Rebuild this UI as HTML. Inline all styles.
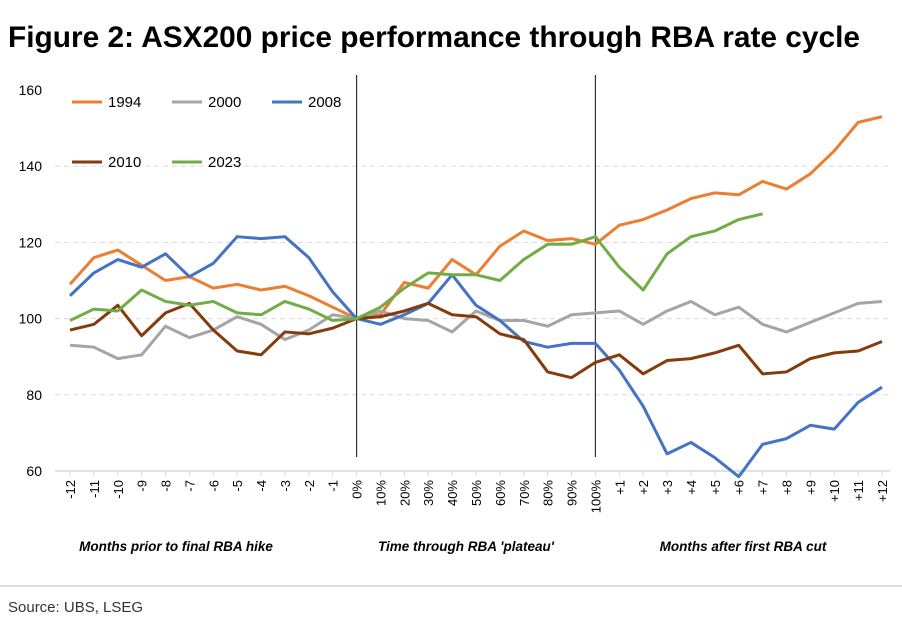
<!DOCTYPE html>
<html><head><meta charset="utf-8"><style>
body{margin:0;background:#fff;width:902px;height:620px;overflow:hidden;font-family:"Liberation Sans",sans-serif}
</style></head><body>
<svg width="902" height="620" id="svg">
<text x="8" y="47" font-size="30" font-weight="bold" fill="#000" textLength="852" lengthAdjust="spacingAndGlyphs">Figure 2: ASX200 price performance through RBA rate cycle</text>
<line x1="0" y1="586" x2="902" y2="586" stroke="#bbb" stroke-width="1"/>
<text x="8" y="612" font-size="15" fill="#333">Source: UBS, LSEG</text>
<g id="plot"></g>
</svg>
<script>
const categories=["-12","-11","-10","-9","-8","-7","-6","-5","-4","-3","-2","-1","0%","10%","20%","30%","40%","50%","60%","70%","80%","90%","100%","+1","+2","+3","+4","+5","+6","+7","+8","+9","+10","+11","+12"];
const s1994=[109,116,118,114,110,111,108,109,107.5,108.5,106,103,100,101,109.5,108,115.5,111.5,119,123,120.5,121,119.5,124.5,126,128.5,131.5,133,132.5,136,134,138,144,151.5,153];
const s2000=[93,92.5,89.5,90.5,98,95,97,100.5,98.5,94.5,97,101,100,102,100,99.5,96.5,102,99.5,99.5,98,101,101.5,102,98.5,102,104.5,101,103,98.5,96.5,99,101.5,104,104.5];
const s2008=[106,112,115.5,113.5,117,111,114.5,121.5,121,121.5,116,107,100,98.5,101,104,111.5,103.5,99.5,94,92.5,93.5,93.5,86.5,77,64.5,67.5,63.5,58.5,67,68.5,72,71,78,82];
const s2010=[97,98.5,103.5,95.5,101.5,104,97,91.5,90.5,96.5,96,97.5,100,100.5,102,104,101,100.5,96,94.5,86,84.5,88.5,90.5,85.5,89,89.5,91,93,85.5,86,89.5,91,91.5,94];
const s2023=[99.5,102.5,102,107.5,104.5,103.5,104.5,101.5,101,104.5,102.5,99.5,100,103,108,112,111.5,111.5,110,115.5,119.5,119.5,121.5,113.5,107.5,117,121.5,123,126,127.5];
const yTicks=[60,80,100,120,140,160];
const seriesNames=["1994","2000","2008","2010","2023"];
const sections=["Months prior to final RBA hike","Time through RBA 'plateau'","Months after first RBA cut"];

const NS="http://www.w3.org/2000/svg";
const g=document.getElementById('plot');
const x0=70,dx=(882-70)/34;
const xs=i=>x0+i*dx;
const ys=v=>471-(v-60)*381/100;
function mk(t,a){const e=document.createElementNS(NS,t);for(const k in a)e.setAttribute(k,a[k]);g.appendChild(e);return e;}
yTicks.forEach(v=>{
 if(v>60&&v<160){const l=mk('line',{x1:55,x2:890,y1:ys(v),y2:ys(v),stroke:'#d9d9d9','stroke-dasharray':'5,4'});
 
 }
 const t=mk('text',{x:42,y:ys(v)+5,'text-anchor':'end','font-size':'14',fill:'#000'});t.textContent=v;
 
 
});
const ax=mk('line',{x1:55,x2:890,y1:471,y2:471,stroke:'#d9d9d9','stroke-width':1.5});


categories.forEach((c,i)=>{
 const tk=mk('line',{x1:xs(i),x2:xs(i),y1:471,y2:476,stroke:'#d9d9d9'});
 
 
 const t=mk('text',{x:0,y:0,'text-anchor':'end','font-size':'13',fill:'#000',transform:`translate(${xs(i)+5},480) rotate(-90)`});
 t.textContent=c;
 
 
});
[12,22].forEach(i=>{const l=mk('line',{x1:xs(i),x2:xs(i),y1:75,y2:457,stroke:'#333','stroke-width':1.2});
 
 });
const secX=[176,466,743];
sections.forEach((s,i)=>{const t=mk('text',{x:secX[i],y:551,'text-anchor':'middle','font-size':'13.5','font-weight':'bold','font-style':'italic',fill:'#000'});t.textContent=s;
 
 });
const data=[s1994,s2000,s2008,s2010,s2023];
const colors=['#ED7D31','#A5A5A5','#4472C4','#843C0C','#70AD47'];
data.forEach((d,k)=>{
 const p=mk('polyline',{points:d.map((v,i)=>xs(i)+','+ys(v)).join(' '),fill:'none',stroke:colors[k],'stroke-width':3,'stroke-linejoin':'round'});
 
 
});
const lp=[[72,107],[172,107],[272,107],[72,167],[172,167]];
seriesNames.forEach((n,k)=>{
 const l=mk('line',{x1:lp[k][0],x2:lp[k][0]+30,y1:lp[k][1]-5,y2:lp[k][1]-5,stroke:colors[k],'stroke-width':3});
 
 
 const t=mk('text',{x:lp[k][0]+36,y:lp[k][1],'font-size':'15',fill:'#000'});t.textContent=n;
 
 
});
</script>
</body></html>
